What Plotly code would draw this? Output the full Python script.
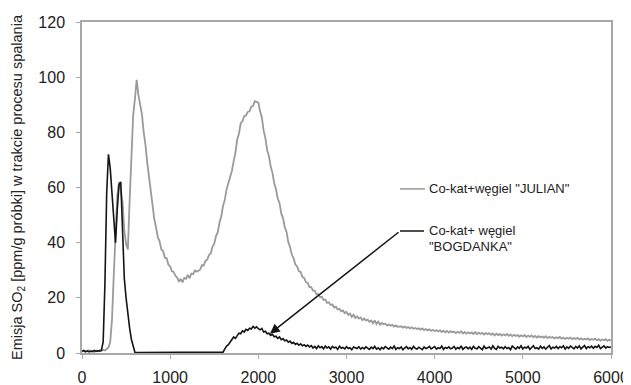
import plotly.graph_objects as go

time_s = list(range(0, 6001, 20))

julian = [
    0.5, 0.9, 0.4, 0.7, 1.0, 0.5, 0.8, 0.4, 0.9, 0.6,
    1.0, 0.7, 1.2, 0.9, 1.4, 2, 4, 12, 28, 45,
    57, 62, 59, 54.5, 44.5, 39.5, 37.5, 55, 68.5, 86,
    92, 99, 93.5, 89.5, 86.5, 80, 75.5, 69, 63.5, 57.5,
    53.5, 48.5, 45.5, 42, 40.5, 37.5, 37, 34.5, 34.4, 32,
    31.4, 29.6, 29.4, 28, 27.3, 25.8, 26.9, 25.6, 27.2, 26.9,
    28.3, 27.1, 28.8, 28.6, 29.9, 29.5, 29.8, 30.2, 31.9, 31.7,
    33.4, 33.8, 35.5, 36.1, 38.5, 39.6, 42.4, 43.8, 47.4, 49.6,
    53.4, 55.6, 59.4, 61.5, 64.4, 66, 69.5, 72.6, 77.4, 79.5,
    83.3, 84, 85.9, 86.1, 87.4, 87.6, 89.3, 89.6, 91.3, 91.1,
    90.8, 87.6, 85.4, 80.6, 77.9, 73.6, 71.4, 67.6, 65.4, 61.6,
    59.4, 56, 54.4, 50.6, 48.9, 45.6, 43.9, 40.1, 38.4, 35.6,
    34.4, 32.1, 31.4, 29.6, 29.4, 27.6, 27.2, 25.6, 25.4, 23.9,
    23.9, 22.6, 22.6, 21.2, 21.4, 20.2, 20.4, 19.2, 19.4, 18.2,
    18.4, 17.4, 17.6, 16.5, 16.8, 15.8, 16, 15.1, 15.4, 14.4,
    14.9, 13.8, 14.3, 13.1, 13.9, 12.7, 13.3, 12.5, 12.9, 11.9,
    12.5, 11.8, 12.1, 11.3, 11.8, 10.8, 11.8, 10.5, 11.4, 10.3,
    10.9, 10.4, 10.6, 10.0, 10.3, 9.9, 10.2, 9.6, 10.0, 9.5,
    9.5, 9.7, 9.2, 9.6, 9.1, 9.4, 8.9, 9.3, 8.8, 9.1,
    8.7, 9.0, 8.5, 8.9, 8.3, 8.7, 8.2, 8.6, 8.0, 8.4,
    7.9, 8.3, 7.8, 8.2, 7.6, 8.1, 7.5, 8.0, 7.4, 7.9,
    7.5, 7.8, 7.2, 7.7, 7.3, 7.9, 7.1, 7.6, 7.0, 7.5,
    7.1, 7.5, 6.9, 7.6, 6.8, 7.4, 6.9, 7.3, 6.7, 7.2,
    6.8, 7.2, 6.6, 7.1, 6.4, 7.0, 6.5, 6.9, 6.3, 6.8,
    6.4, 6.9, 6.2, 6.7, 6.1, 6.6, 6.2, 6.5, 5.9, 6.4,
    6.0, 6.5, 5.8, 6.3, 5.9, 6.4, 5.7, 6.2, 5.6, 6.1,
    5.7, 6.0, 5.5, 6.1, 5.4, 5.9, 5.5, 5.8, 5.3, 5.7,
    5.4, 5.8, 5.2, 5.6, 5.1, 5.5, 5.2, 5.6, 5.0, 5.4,
    5.1, 5.5, 4.9, 5.3, 4.8, 5.2, 4.9, 5.3, 4.7, 5.1,
    4.8, 5.2, 4.6, 5.0, 4.5, 4.9, 4.6, 5.0, 4.4, 4.8,
    4.5,
]

bogdanka = [
    0.6, 0.9, 0.5, 0.8, 0.4, 0.7, 0.5, 0.9, 0.6, 0.8,
    0.7, 1.0, 4, 25, 58, 72, 67, 58, 48, 40,
    52, 61, 62, 45, 27, 20, 14, 9, 5, 2,
    0.3, 0.2, 0.2, 0.2, 0.2, 0.2, 0.2, 0.2, 0.2, 0.2,
    0.2, 0.2, 0.2, 0.2, 0.2, 0.2, 0.2, 0.2, 0.2, 0.2,
    0.2, 0.2, 0.2, 0.2, 0.2, 0.2, 0.2, 0.2, 0.2, 0.2,
    0.2, 0.2, 0.2, 0.2, 0.2, 0.2, 0.2, 0.2, 0.2, 0.2,
    0.2, 0.2, 0.2, 0.2, 0.2, 0.2, 0.2, 0.2, 0.2, 0.2,
    0.3, 1.5, 2.5, 3.0, 4.0, 4.5, 5.8, 5.3, 6.5, 7.2,
    7.0, 8.0, 7.6, 8.6, 8.2, 9.0, 8.7, 9.6, 9.0, 9.5,
    8.8, 8.4, 8.9, 7.6, 7.9, 7.0, 7.2, 6.4, 6.8, 5.9,
    6.1, 5.3, 5.8, 4.8, 5.2, 4.4, 4.7, 3.9, 4.3, 3.5,
    3.9, 3.1, 3.5, 2.8, 3.3, 2.6, 3.0, 2.4, 2.9, 2.2,
    2.7, 1.8, 2.4, 1.6, 2.6, 1.9, 2.3, 1.5, 2.5, 1.8,
    2.2, 1.4, 2.4, 1.9, 2.1, 1.3, 2.5, 1.7, 2.0, 1.5,
    2.3, 1.6, 1.9, 1.2, 2.2, 1.8, 1.6, 2.3, 1.4, 2.0,
    1.5, 2.2, 1.7, 1.3, 2.1, 1.6, 2.4, 1.4, 1.9, 1.2,
    2.0, 1.5, 2.3, 1.7, 1.4, 2.1, 1.6, 2.5, 1.3, 1.9,
    1.6, 2.2, 1.2, 1.8, 2.3, 1.5, 2.0, 1.3, 2.4, 1.7,
    1.4, 2.1, 1.8, 1.2, 2.2, 1.6, 1.9, 2.4, 1.5, 1.8,
    2.3, 1.4, 1.9, 1.6, 2.5, 1.3, 2.0, 1.7, 2.2, 1.5,
    1.8, 2.4, 1.4, 2.0, 1.6, 2.6, 1.3, 1.9, 2.2, 1.5,
    2.1, 1.3, 2.4, 1.7, 1.5, 2.3, 1.8, 1.2, 2.5, 1.6,
    1.9, 2.2, 1.4, 2.6, 1.7, 1.3, 2.4, 1.8, 2.1, 1.5,
    2.3, 1.6, 2.0, 1.2, 2.5, 1.9, 1.4, 2.2, 1.7, 2.6,
    1.5, 2.1, 1.8, 2.4, 1.3, 2.0, 2.6, 1.6, 1.9, 1.4,
    2.5, 1.7, 2.2, 1.4, 2.0, 2.7, 1.5, 2.1, 1.8, 2.4,
    1.6, 2.3, 1.9, 2.6, 1.4, 2.2, 1.7, 2.5, 2.0, 1.5,
    2.4, 1.8, 2.6, 1.5, 2.1, 2.7, 1.6, 2.3, 1.9, 2.5,
    1.7, 2.4, 2.0, 2.8, 1.6, 2.2, 2.6, 1.8, 2.3, 2.0,
    2.2,
]

x_ticks = [0, 1000, 2000, 3000, 4000, 5000, 6000]
y_ticks = [0, 20, 40, 60, 80, 100, 120]

label_julian = 'Co-kat+węgiel "JULIAN"'
label_bog_1 = 'Co-kat+ węgiel'
label_bog_2 = '"BOGDANKA"'
y_title = 'Emisja SO<sub>2</sub> [ppm/g próbki] w trakcie procesu spalania'

# arrow pointing at the BOGDANKA curve (head, tail in data units)
arrow_head = (2132, 7.0)
arrow_tail = (3607, 44.2)

GRAY = "#9a9a9a"
BLACK = "#141414"
FONT = "Liberation Sans, Arial, sans-serif"

fig = go.Figure()
fig.add_trace(go.Scatter(x=time_s, y=julian, mode="lines",
                         line=dict(color=GRAY, width=1.8), name=label_julian,
                         showlegend=False))
fig.add_trace(go.Scatter(x=time_s, y=bogdanka, mode="lines",
                         line=dict(color=BLACK, width=1.6), name="BOGDANKA",
                         showlegend=False))

axis_common = dict(showline=True, linecolor="#a8a8a8", linewidth=1.5, mirror=True,
                   ticks="outside", ticklen=4, tickcolor="#a8a8a8", showgrid=False,
                   zeroline=False, automargin=False,
                   tickfont=dict(family=FONT, size=16, color="#222"))

fig.update_xaxes(range=[0, 6000], tickvals=x_ticks, ticklabelstandoff=5, **axis_common)
fig.update_yaxes(range=[0, 120], tickvals=y_ticks, ticklabelstandoff=8,
                 title=dict(text=y_title, font=dict(family=FONT, size=14.5, color="#222"),
                            standoff=12),
                 **axis_common)

def px2paper_x(px):
    return (px - 82) / 529.0

def px2paper_y(py):
    return (352.7 - py) / 330.2

fig.add_shape(type="line", xref="paper", yref="paper",
              x0=px2paper_x(400), x1=px2paper_x(425), y0=px2paper_y(189), y1=px2paper_y(189),
              line=dict(color=GRAY, width=1.5))
fig.add_shape(type="line", xref="paper", yref="paper",
              x0=px2paper_x(400), x1=px2paper_x(424), y0=px2paper_y(231), y1=px2paper_y(231),
              line=dict(color=BLACK, width=1.5))

ann_font = dict(family=FONT, size=13, color="#222")
fig.add_annotation(xref="paper", yref="paper", x=px2paper_x(427), y=px2paper_y(189),
                   text=label_julian, showarrow=False, xanchor="left", yanchor="middle",
                   font=ann_font)
fig.add_annotation(xref="paper", yref="paper", x=px2paper_x(427), y=px2paper_y(230),
                   text=label_bog_1, showarrow=False, xanchor="left", yanchor="middle",
                   font=ann_font)
fig.add_annotation(xref="paper", yref="paper", x=px2paper_x(427), y=px2paper_y(246),
                   text=label_bog_2, showarrow=False, xanchor="left", yanchor="middle",
                   font=ann_font)
fig.add_annotation(x=arrow_head[0], y=arrow_head[1], ax=arrow_tail[0], ay=arrow_tail[1],
                   xref="x", yref="y", axref="x", ayref="y", text="",
                   showarrow=True, arrowhead=2, arrowsize=1.3, arrowwidth=1.5,
                   arrowcolor=BLACK)

# the page body adds an 8px offset, so the figure is drawn 8px smaller
fig.update_layout(width=623, height=377, margin=dict(l=74, r=20, t=14, b=32),
                  paper_bgcolor="white", plot_bgcolor="white",
                  font=dict(family=FONT))

fig.write_html("out.html")
